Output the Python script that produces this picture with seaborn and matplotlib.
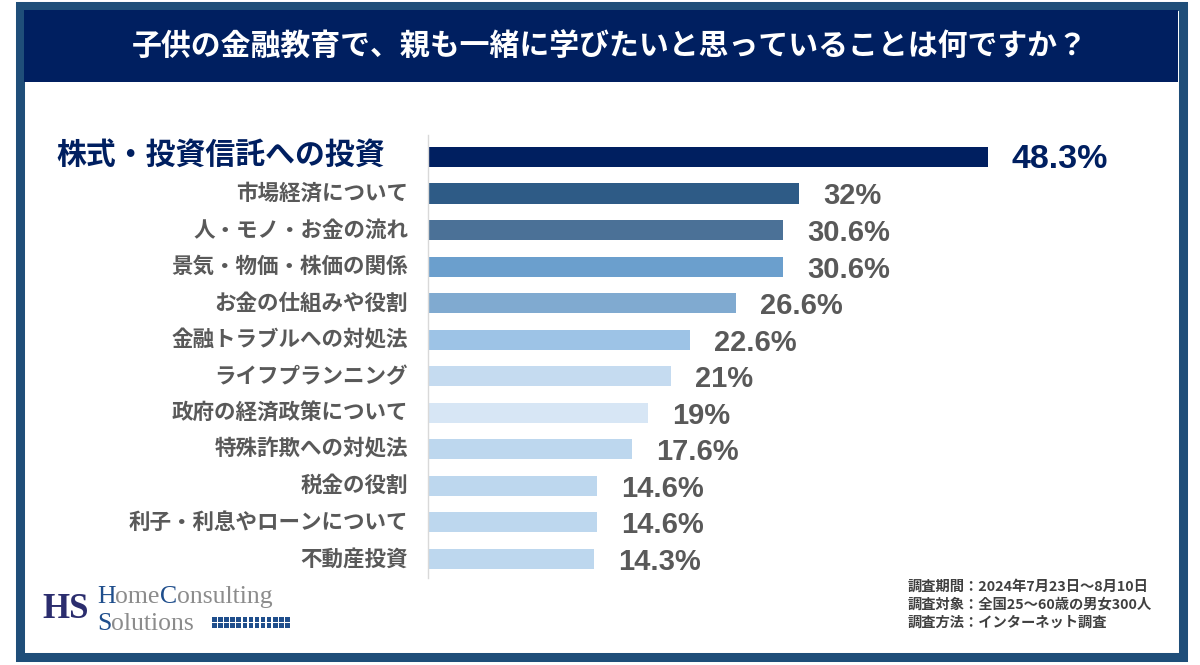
import matplotlib
matplotlib.use("Agg")
import matplotlib.pyplot as plt
from matplotlib.patches import Rectangle
from matplotlib.transforms import offset_copy
import seaborn as sns
import pandas as pd

# data
categories = [
    "株式・投資信託への投資",
    "市場経済について",
    "人・モノ・お金の流れ",
    "景気・物価・株価の関係",
    "お金の仕組みや役割",
    "金融トラブルへの対処法",
    "ライフプランニング",
    "政府の経済政策について",
    "特殊詐欺への対処法",
    "税金の役割",
    "利子・利息やローンについて",
    "不動産投資",
]
values = [48.3, 32, 30.6, 30.6, 26.6, 22.6, 21, 19, 17.6, 14.6, 14.6, 14.3]
bar_colors = [
    "#001f60", "#2e5b86", "#4b7197", "#6b9fcd", "#80aad0", "#9dc3e6",
    "#c5dbf0", "#d7e6f5", "#bdd7ee", "#bdd7ee", "#bdd7ee", "#bdd7ee",
]

title = "子供の金融教育で、親も一緒に学びたいと思っていることは何ですか？"
notes = [
    "調査期間：2024年7月23日～8月10日",
    "調査対象：全国25～60歳の男女300人",
    "調査方法：インターネット調査",
]

NAVY = "#001f60"
FRAME = "#1f4e79"
GRAY = "#595959"
W, H = 1200, 665


def fx(x):
    return x / W


def fy(y):
    return 1 - y / H


sns.set_theme(style="white")
plt.rcParams["font.family"] = ["Noto Sans CJK JP", "DejaVu Sans"]

df = pd.DataFrame({"item": categories, "pct": values})

fig = plt.figure(figsize=(12, 6.65), dpi=100)
fig.patch.set_facecolor("white")

# outer frame and title band
fig.patches.append(Rectangle((fx(19.5), fy(656.5)), fx(1163), 651 / H,
                             transform=fig.transFigure, fill=False,
                             edgecolor=FRAME, linewidth=6.5, zorder=0))
fig.patches.append(Rectangle((fx(24), fy(82)), fx(1154), 72 / H,
                             transform=fig.transFigure, facecolor=NAVY,
                             edgecolor="none", zorder=0))
fig.text(fx(610), fy(47), title, color="white", fontsize=21.5, fontweight="bold",
         ha="center", va="center")

ax = fig.add_axes([fx(428), fy(578), fx(1180 - 428), 443 / H])
sns.barplot(data=df, x="pct", y="item", hue="item", palette=bar_colors,
            legend=False, orient="h", width=0.55, linewidth=0, saturation=1,
            ax=ax)

px_per_unit = 560 / 48.3
ax.set_xlim(0, (1180 - 428) / px_per_unit)
ax.set_ylim(11.52, -0.6)
ax.set_xticks([])
ax.set_yticks([])
ax.set_xlabel("")
ax.set_ylabel("")
for s in ["top", "right", "bottom"]:
    ax.spines[s].set_visible(False)
ax.spines["left"].set_color("#d9d9d9")
ax.spines["left"].set_linewidth(1)

# category labels
ytrans = ax.get_yaxis_transform()
for i, cat in enumerate(categories):
    if i == 0:
        tr = offset_copy(ytrans, fig=fig, x=-43, y=2, units="dots")
        ax.text(0, i, cat, transform=tr, ha="right", va="center",
                fontsize=21.5, fontweight="bold", color=NAVY)
    else:
        tr = offset_copy(ytrans, fig=fig, x=-20, y=0, units="dots")
        ax.text(0, i, cat, transform=tr, ha="right", va="center",
                fontsize=15.5, fontweight="bold", color=GRAY)

# value labels
narrow = ["Liberation Sans Narrow", "Liberation Sans", "DejaVu Sans"]
for i, v in enumerate(values):
    tr = offset_copy(ax.transData, fig=fig, x=24, y=-3, units="dots")
    if i == 0:
        ax.text(v, i, f"{v:g}%", transform=tr, ha="left", va="center",
                fontsize=24.5, fontweight="bold", color=NAVY, family=narrow)
    else:
        ax.text(v, i, f"{v:g}%", transform=tr, ha="left", va="center",
                fontsize=21, fontweight="bold", color=GRAY, family=narrow)

# survey notes
for k, line in enumerate(notes):
    fig.text(fx(908), fy(587 + 18 * k), line, fontsize=10.3, fontweight="bold",
             color="#404040", ha="left", va="center")

# logo
serif = ["Liberation Serif", "DejaVu Serif"]
fig.text(fx(42), fy(609), "HS", fontsize=25, fontweight="bold", color="#2b2d6e",
         family=serif, ha="left", va="center")


def colored_line(pieces, x, y):
    prev = None
    for piece, col in pieces:
        if prev is None:
            prev = fig.text(x, y, piece, fontsize=18.5, color=col, family=serif,
                            ha="left", va="baseline")
        else:
            prev = fig.add_artist(plt.Annotation(piece, xy=(1, 0), xycoords=prev,
                                                 va="bottom", ha="left",
                                                 fontsize=18.5, color=col,
                                                 family=serif))


colored_line([("H", "#1f4e8c"), ("ome", "#8c8c8c"), ("C", "#1f4e8c"),
              ("onsulting", "#8c8c8c")], fx(97), fy(603))
colored_line([("S", "#1f4e8c"), ("olutions", "#8c8c8c")], fx(97), fy(630))

for r in range(2):
    for c in range(13):
        fig.patches.append(Rectangle((fx(212 + c * 6.1), fy(628 - r * 6)),
                                     4.6 / W, 4.6 / H,
                                     transform=fig.transFigure,
                                     facecolor="#1f4e8c", edgecolor="none"))

fig.savefig("out.png", dpi=100)
